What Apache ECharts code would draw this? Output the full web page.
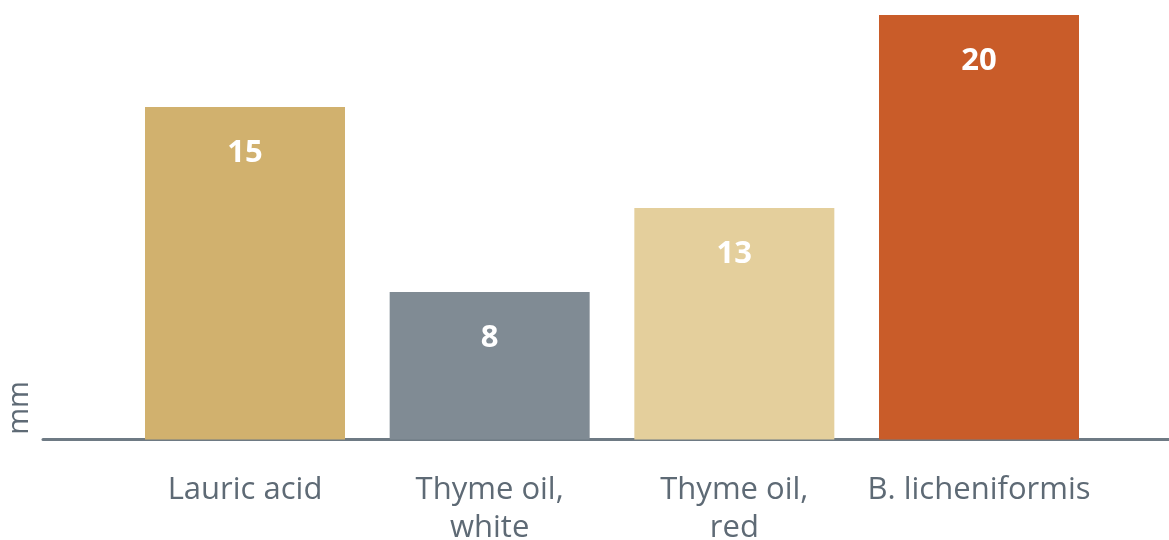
<!DOCTYPE html>
<html>
<head>
<meta charset="utf-8">
<script src="https://cdn.jsdelivr.net/npm/echarts@6/dist/echarts.min.js"></script>
<style>
html,body{margin:0;padding:0;background:#fff;}
#c{width:1169px;height:540px;}
</style>
</head>
<body>
<div id="c"></div>
<script>
// Data
var categories = ['Lauric acid', 'Thyme oil,\nwhite', 'Thyme oil,\nred', 'B. licheniformis'];
var barHeights = [15.67, 6.95, 10.91, 20];      // bar heights (mm)
var valueLabels = ['15', '8', '13', '20'];      // printed values
var barColors = ['#D1B16E', '#808B94', '#E4CF9C', '#C95C29'];
var yMax = 20;

var FONT = '"Open Sans", "Noto Sans", sans-serif';
var chart = echarts.init(document.getElementById('c'));
chart.setOption({
  backgroundColor: '#ffffff',
  animation: false,
  grid: [
    {left: 122.67, right: 67.67, top: 15, bottom: 100.5, containLabel: false, outerBoundsMode: 'none'},
    {left: 43, right: 0, top: 15, bottom: 100.5, containLabel: false, outerBoundsMode: 'none'}
  ],
  xAxis: [
    {
      type: 'category', gridIndex: 0, data: categories,
      axisLine: {show: false}, axisTick: {show: false},
      axisLabel: {color: '#5E6A75', fontSize: 31, fontFamily: FONT, margin: 32, lineHeight: 38, interval: 0}
    },
    {
      type: 'value', gridIndex: 1, min: 0, max: 1,
      axisLine: {show: true, lineStyle: {color: '#6E7A84', width: 3}},
      axisTick: {show: false}, axisLabel: {show: false}, splitLine: {show: false}
    }
  ],
  yAxis: [
    {type: 'value', gridIndex: 0, min: 0, max: yMax, show: false, splitLine: {show: false}},
    {type: 'value', gridIndex: 1, min: 0, max: 1, show: false, splitLine: {show: false}}
  ],
  graphic: [{
    type: 'text', x: 20, y: 408, rotation: Math.PI / 2,
    style: {text: 'mm', fill: '#5E6A75', fontSize: 29, fontFamily: FONT, align: 'center', verticalAlign: 'middle'}
  }],
  series: [{
    type: 'bar', xAxisIndex: 0, yAxisIndex: 0, barWidth: 200,
    data: barHeights.map(function (v, i) { return {value: v, itemStyle: {color: barColors[i]}}; }),
    label: {
      show: true, position: 'insideTop', distance: 31,
      formatter: function (p) { return valueLabels[p.dataIndex]; },
      color: '#ffffff', fontSize: 31, fontWeight: 'bold', fontFamily: FONT
    }
  }]
});
</script>
</body>
</html>
